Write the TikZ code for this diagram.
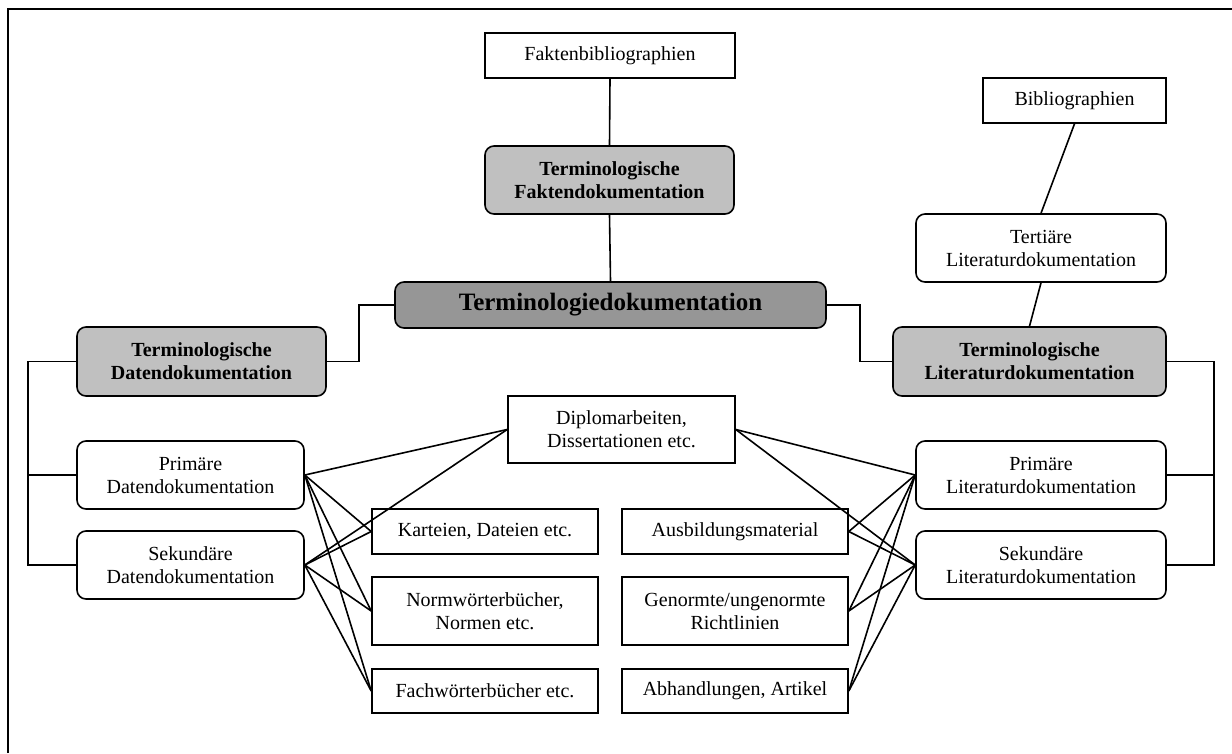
\documentclass[tikz,border=0pt]{standalone}
\usepackage{fontspec}
\setmainfont{Liberation Serif}
\definecolor{midgray}{HTML}{C0C0C0}
\definecolor{darkgray}{HTML}{969696}
\begin{document}
\begin{tikzpicture}[x=1pt,y=-1pt,
  base/.style={draw, line width=1.6pt, align=center, inner sep=0pt, fill=white,
    font=\fontsize{20}{23}\selectfont},
  sbox/.style={base},
  rbox/.style={base, rounded corners=9pt},
  gbox/.style={rbox, fill=midgray, font=\fontsize{20}{23}\selectfont\bfseries},
  conn/.style={line width=1.6pt},
]
\useasboundingbox (0,0) rectangle (1232,753);
\draw[line width=2pt] (8,753) -- (8,9) -- (1232,9);

\node[sbox, minimum width=250, minimum height=45] (fb) at (610,55.5) {Faktenbibliographien};
\node[gbox, minimum width=249, minimum height=68] (fakt) at (609.5,180) {Terminologische\\Faktendokumentation};
\node[rbox, fill=darkgray, minimum width=431, minimum height=46,
  font=\fontsize{25}{28}\selectfont\bfseries] (td) at (610.5,305) {Terminologiedokumentation};
\node[sbox, minimum width=183, minimum height=45] (bib) at (1074.5,100.5) {Bibliographien};
\node[rbox, minimum width=250, minimum height=68] (tert) at (1041,248) {Tertiäre\\Literaturdokumentation};
\node[gbox, minimum width=249, minimum height=69] (daten) at (201.5,361.5) {Terminologische\\Datendokumentation};
\node[gbox, minimum width=273, minimum height=69] (lit) at (1029.5,361.5) {Terminologische\\Literaturdokumentation};
\node[rbox, minimum width=227, minimum height=68] (pd) at (190.5,475) {Primäre\\Datendokumentation};
\node[rbox, minimum width=227, minimum height=68] (sd) at (190.5,565) {Sekundäre\\Datendokumentation};
\node[rbox, minimum width=250, minimum height=68] (pl) at (1041,475) {Primäre\\Literaturdokumentation};
\node[rbox, minimum width=250, minimum height=68] (sl) at (1041,565) {Sekundäre\\Literaturdokumentation};
\node[sbox, minimum width=227, minimum height=67] (dipl) at (621.5,429.5) {Diplomarbeiten,\\Dissertationen etc.};
\node[sbox, minimum width=226, minimum height=45] (kart) at (485,531.5) {Karteien, Dateien etc.};
\node[sbox, minimum width=226, minimum height=68] (norm) at (485,611) {Normwörterbücher,\\Normen etc.};
\node[sbox, minimum width=226, minimum height=44] (fach) at (485,691) {Fachwörterbücher etc.};
\node[sbox, minimum width=226, minimum height=45] (ausb) at (735,531.5) {Ausbildungsmaterial};
\node[sbox, minimum width=226, minimum height=68] (gen) at (735,611) {Genormte/ungenormte\\Richtlinien};
\node[sbox, minimum width=226, minimum height=44] (abh) at (735,691) {Abhandlungen, Artikel};

\draw[conn] (fb.south) -- (fakt.north);
\draw[conn] (fakt.south) -- (td.north);
\draw[conn] (bib.south) -- (tert.north);
\draw[conn] (tert.south) -- (lit.north);
\draw[conn] (td.west) -- ++(-35,0) |- (daten.east);
\draw[conn] (td.east) -- ++(33,0) |- (lit.west);
\draw[conn] (daten.west) -- ++(-48,0) |- (sd.west);
\draw[conn] (pd.west) -- ++(-48,0);
\draw[conn] (lit.east) -- ++(47,0) |- (sl.east);
\draw[conn] (pl.east) -- ++(47,0);

\foreach \s in {pd,sd}{
  \foreach \t in {dipl,kart,norm,fach}{
    \draw[conn] (\s.east) -- (\t.west);
  }
}
\foreach \t in {dipl,ausb,gen,abh}{
  \foreach \s in {pl,sl}{
    \draw[conn] (\t.east) -- (\s.west);
  }
}
\end{tikzpicture}
\end{document}
